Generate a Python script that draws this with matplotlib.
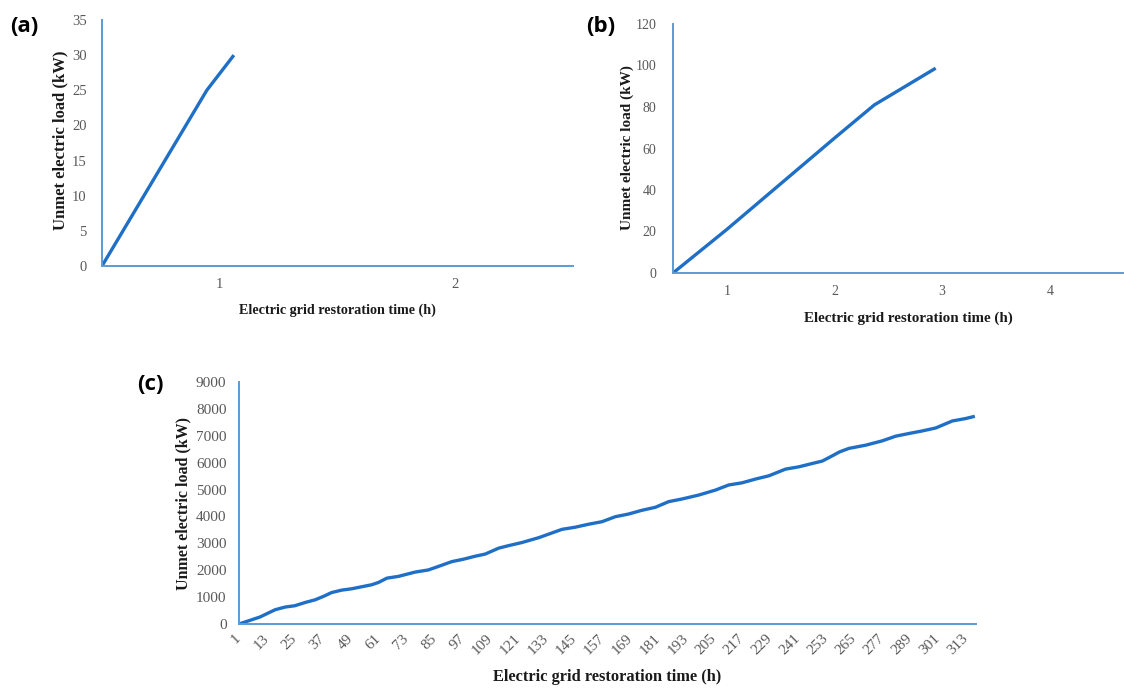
import matplotlib
matplotlib.use("Agg")
import matplotlib.pyplot as plt

# (a) unmet load over the first restoration hour(s)
a_time = [0.5, 0.945, 1.06]
a_load = [0, 25, 30]
a_xticks = [1, 2]
a_yticks = [0, 5, 10, 15, 20, 25, 30, 35]

# (b)
b_time = [0.5, 1.0, 2.0, 2.37, 2.94]
b_load = [0, 21, 65, 81, 98.7]
b_xticks = [1, 2, 3, 4]
b_yticks = [0, 20, 40, 60, 80, 100, 120]

# (c) long outage, hourly steps
c_time = [1, 10, 16.5, 20.8, 25, 29.4, 33.7, 37.2, 40.8, 45.1, 49.4, 53.7, 58,
          60.9, 64.5, 69.4, 76.6, 82.3, 86.6, 92.4, 97.4, 102.4, 106.7, 112.5,
          116.8, 122.5, 129.7, 133.9, 139.7, 145.4, 151.1, 156.9, 162.6, 168.3,
          174.1, 179.8, 185.5, 191.3, 198.4, 205.6, 211.3, 217, 222.8, 228.5,
          235.7, 241.4, 247.2, 251.5, 255.8, 258.9, 262.9, 270.1, 277.2, 283,
          288.7, 294.4, 300.2, 307.3, 313, 317]
c_load = [0, 260, 530, 630, 680, 800, 900, 1025, 1170, 1260, 1310, 1385, 1460,
          1545, 1705, 1770, 1930, 2010, 2140, 2320, 2410, 2520, 2600, 2820,
          2915, 3030, 3210, 3340, 3520, 3600, 3710, 3805, 3990, 4090,
          4230, 4340, 4550, 4650, 4795, 4980, 5170, 5250, 5390, 5510,
          5760, 5845, 5970, 6060, 6255, 6400, 6530, 6650, 6810, 6985,
          7085, 7180, 7290, 7550, 7640, 7725]
c_xticks = list(range(1, 314, 12))
c_yticks = list(range(0, 9001, 1000))

XLABEL = "Electric grid restoration time (h)"
YLABEL = "Unmet electric load (kW)"

LINE = "#1f6fc6"
AXIS = "#5b9bd5"
TICK = "#595959"
SERIF = ["Liberation Serif", "DejaVu Serif"]

W, H = 1124, 688
fig = plt.figure(figsize=(W / 100, H / 100), dpi=100)


def px_axes(left, top, right, bottom):
    return fig.add_axes([left / W, 1 - bottom / H, (right - left) / W, (bottom - top) / H])


def style(ax, fs):
    for s in ("top", "right"):
        ax.spines[s].set_visible(False)
    for s in ("left", "bottom"):
        ax.spines[s].set_color(AXIS)
        ax.spines[s].set_linewidth(1.4)
    ax.tick_params(length=0, labelsize=fs, labelcolor=TICK)
    for lab in ax.get_xticklabels() + ax.get_yticklabels():
        lab.set_family(SERIF)


def labels(ax, xpos, ypos, xfs, yfs):
    ax.set_xlabel(XLABEL, family=SERIF, fontweight="bold", fontsize=xfs, color="#1a1a1a")
    ax.set_ylabel(YLABEL, family=SERIF, fontweight="bold", fontsize=yfs, color="#1a1a1a")
    ax.xaxis.set_label_coords(*xpos)
    ax.yaxis.set_label_coords(*ypos)
    ax.xaxis.label.set_va("center")
    ax.yaxis.label.set_va("center")


# panel (a)
ax_a = px_axes(102, 20, 573, 266)
ax_a.plot(a_time, a_load, color=LINE, lw=2.4, solid_capstyle="butt")
ax_a.set_xlim(0.5, 2.5)
ax_a.set_ylim(0, 35)
ax_a.set_xticks(a_xticks)
ax_a.set_yticks(a_yticks)
style(ax_a, 10.5)
ax_a.tick_params(axis="y", pad=11)
ax_a.tick_params(axis="x", pad=9)
labels(ax_a, (0.499, -0.179), (-0.089, 0.512), 10.2, 12)

# panel (b)
ax_b = px_axes(673, 24, 1123, 273)
ax_b.plot(b_time, b_load, color=LINE, lw=2.4, solid_capstyle="butt")
ax_b.set_xlim(0.5, 4.68)
ax_b.set_ylim(0, 120)
ax_b.set_xticks(b_xticks)
ax_b.set_yticks(b_yticks)
style(ax_b, 10)
ax_b.tick_params(axis="y", pad=12)
ax_b.tick_params(axis="x", pad=9)
labels(ax_b, (0.522, -0.182), (-0.102, 0.502), 10.8, 11)

# panel (c)
ax_c = px_axes(239, 382, 976, 624)
ax_c.plot(c_time, c_load, color=LINE, lw=2.4, solid_capstyle="butt")
ax_c.set_xlim(1, 317.5)
ax_c.set_ylim(0, 9000)
ax_c.set_xticks(c_xticks)
ax_c.set_yticks(c_yticks)
style(ax_c, 11)
ax_c.tick_params(axis="y", pad=9)
ax_c.tick_params(axis="x", pad=9)
for lab in ax_c.get_xticklabels():
    lab.set_rotation(45)
    lab.set_ha("right")
    lab.set_va("center")
    lab.set_rotation_mode("anchor")
labels(ax_c, (0.5, -0.22), (-0.076, 0.5), 11.8, 11.5)

# panel letters
for txt, x, y in (("(a)", 24, 27), ("(b)", 601, 27), ("(c)", 150, 385)):
    fig.text(x / W, 1 - y / H, txt, ha="center", va="center", fontsize=16,
             fontweight="bold", family=["Open Sans", "DejaVu Sans"])

fig.savefig("out.png", dpi=100)
